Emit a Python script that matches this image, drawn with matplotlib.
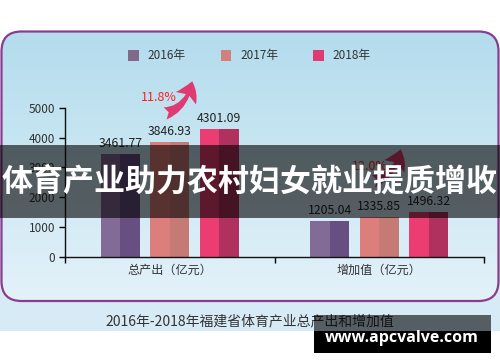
import numpy as np
import matplotlib
matplotlib.use("Agg")
import matplotlib.pyplot as plt
from matplotlib.patches import Rectangle, FancyBboxPatch, FancyArrowPatch
from matplotlib.colors import LinearSegmentedColormap

plt.rcParams['font.family'] = ['Noto Sans CJK SC', 'DejaVu Sans']

# data
categories = ['总产出（亿元）', '增加值（亿元）']
years = ['2016年', '2017年', '2018年']
values_2016 = [3461.77, 1205.04]
values_2017 = [3846.93, 1335.85]
values_2018 = [4301.09, 1496.32]
growth = ['11.8%', '12.0%']
yticks = [0, 1000, 2000, 3000, 4000, 5000]
banner_text = '体育产业助力农村妇女就业提质增收'
caption = '2016年-2018年福建省体育产业总产出和增加值'
watermark = 'www.apcvalve.com'

series = [values_2016, values_2017, values_2018]
light = ['#826b96', '#dc7f7c', '#ec3d72']
dark = ['#684f82', '#c67a76', '#b0315e']
legend_col = ['#806a8a', '#d27f7e', '#e03a72']

W, H = 500, 362
fig = plt.figure(figsize=(W / 100, H / 100), dpi=100)

# background layer in pixel coords
bg = fig.add_axes([0, 0, 1, 1], zorder=0)
bg.set_xlim(0, W)
bg.set_ylim(H, 0)
bg.axis('off')
bg.add_patch(Rectangle((0, 160), W, 171, color='#d6ebf5', lw=0))
panel = FancyBboxPatch((1.5, 31.5), 497, 269.5, boxstyle='round,pad=0,rounding_size=20',
                       fc='none', ec='#8a3d8e', lw=1.6, zorder=3)
bg.add_patch(panel)
cmap = LinearSegmentedColormap.from_list('bgc', ['#b3dced', '#e4f2f9'])
grad = np.linspace(0, 1, 256).reshape(-1, 1)
im = bg.imshow(grad, cmap=cmap, aspect='auto', extent=[1.5, 498.5, 301, 31.5], zorder=1)
im.set_clip_path(panel)
bg.text(250, 321, caption, ha='center', va='center', fontsize=10, color='#333333')

# legend
for i, (yr, c) in enumerate(zip(years, legend_col)):
    x0 = 128 + i * 92.5
    bg.add_patch(Rectangle((x0, 50), 10.5, 11, color=c, lw=0, zorder=4))
    bg.text(x0 + 19.5, 55.5, yr, ha='left', va='center', fontsize=8.5, color='#333333', zorder=4)

# chart
ax = fig.add_axes([65 / W, 1 - 256.7 / H, (484 - 65) / W, (256.7 - 108) / H], zorder=1)
ax.patch.set_alpha(0)
ax.set_xlim(-0.5, 1.5)
ax.set_ylim(0, 5000)
w = 0.187
step = 0.236
x = np.arange(len(categories))
for j, vals in enumerate(series):
    centers = x + (j - 1) * step
    ax.bar(centers - w / 2, vals, width=w / 2, align='edge', color=light[j], lw=0)
    ax.bar(centers, vals, width=w / 2, align='edge', color=dark[j], lw=0)
    for cx, v in zip(centers, vals):
        ax.annotate(f'{v:.2f}', (cx, v), xytext=(0, 3), textcoords='offset points',
                    ha='center', va='bottom', fontsize=8.8, color='#222222')

# growth arrows (curved, sweeping right then up)
label_pos = [(-0.05, 5338), (0.955, 3017)]
arrow_pos = [((-0.035, 4800), (0.11, 5990)), ((0.96, 2520), (1.105, 3700))]
for g, (lx, ly), (tail, tip) in zip(growth, label_pos, arrow_pos):
    arr = FancyArrowPatch(tail, tip, connectionstyle='angle3,angleA=10,angleB=80',
                          arrowstyle='fancy,head_length=0.65,head_width=0.85,tail_width=0.45',
                          mutation_scale=20, color='#e03a72', lw=0, clip_on=False)
    ax.add_patch(arr)
    ax.text(lx, ly, g, ha='center', va='center', fontsize=9, color='#ff1e1e', clip_on=False)

ax.set_yticks(yticks)
ax.set_xticks([-0.5, 0.5, 1.5])
ax.set_xticklabels([])
ax.set_xticks(x, minor=True)
ax.set_xticklabels(categories, minor=True, fontsize=8.7, color='#333333')
ax.tick_params(axis='x', which='minor', length=0, pad=5)
ax.tick_params(axis='x', which='major', length=4, width=1)
ax.tick_params(axis='y', length=4, width=1, labelsize=8.5, labelcolor='#333333', pad=3)
for s in ['top', 'right']:
    ax.spines[s].set_visible(False)
for s in ['left', 'bottom']:
    ax.spines[s].set_linewidth(1)
    ax.spines[s].set_color('#111111')

# overlay banner and watermark
ov = fig.add_axes([0, 0, 1, 1], zorder=2)
ov.set_xlim(0, W)
ov.set_ylim(H, 0)
ov.axis('off')
ov.patch.set_alpha(0)
ov.add_patch(Rectangle((0, 145), W, 73, color='black', alpha=0.6, lw=0))
ov.text(250, 182, banner_text, ha='center', va='center', fontsize=22.3,
        fontweight='bold', color='white')
ov.add_patch(Rectangle((314, 315), 177, 16, color='black', alpha=0.6, lw=0))
ov.add_patch(Rectangle((314, 331), 177, 22, color='black', lw=0))
ov.text(402, 337.5, watermark, ha='center', va='center', fontsize=11.5,
        fontweight='bold', color='white', family=['Open Sans', 'DejaVu Sans'])

fig.savefig('out.png', dpi=100)
